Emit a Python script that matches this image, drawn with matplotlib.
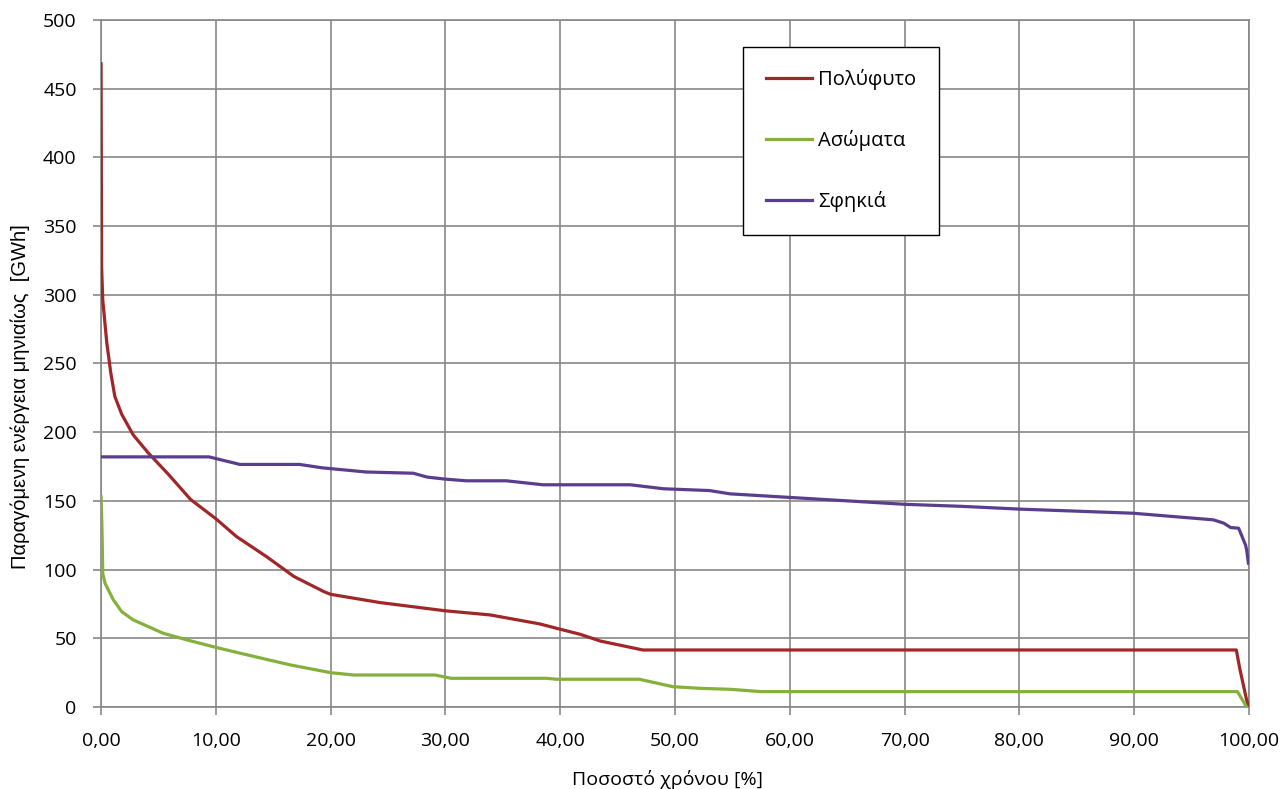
import matplotlib
matplotlib.use('Agg')
import matplotlib.pyplot as plt
from matplotlib.ticker import FuncFormatter

plt.rcParams['font.family'] = ['Open Sans', 'DejaVu Sans']

# Πολύφυτο
poly_x = [0.0, 0.05, 0.15, 0.5, 0.85, 1.2, 1.8, 2.8, 4.1, 5.9, 7.8, 10.0, 11.8, 14.4,
          16.8, 19.4, 20.0, 24.3, 30.0, 33.9, 38.2, 40.0, 41.7, 43.5, 47.2, 98.9, 99.2,
          99.8, 100.0]
poly_y = [468, 320, 296, 265, 243, 226, 213, 198, 185, 169, 151, 137, 124, 109.5,
          95, 84, 82, 76, 70, 67, 60.5, 56.6, 53, 48, 41.5, 41.5, 28,
          5, 0]

# Ασώματα
asom_x = [0.0, 0.05, 0.09, 0.15, 0.35, 1.07, 1.8, 2.8, 5.4, 7.5, 10.0, 12.4, 16.5, 20.0,
          22.0, 29.1, 30.5, 38.8, 39.7, 46.9, 49.8, 52.2, 54.8, 57.5, 99.0, 99.8]
asom_y = [153, 140, 126.7, 97, 90, 78, 69.4, 63.4, 53.7, 48.8, 43.4, 38.6, 30.6, 25,
          23.3, 23.3, 20.9, 20.9, 20.2, 20.2, 14.8, 13.6, 12.9, 11.2, 11.2, 0]

# Σφηκιά
sfik_x = [0.0, 9.4, 12.1, 17.3, 19.3, 23.1, 27.2, 28.4, 30.0, 31.8, 35.3, 38.5, 46.1,
          49.0, 53.0, 54.8, 60.0, 65.0, 70.0, 75.0, 80.0, 85.0, 89.9, 96.9, 97.8, 98.4,
          99.1, 99.7, 99.8, 99.95]
sfik_y = [182, 182, 176.5, 176.5, 174, 171, 170.1, 167.3, 165.8, 164.6, 164.6, 161.7, 161.7,
          158.8, 157.5, 155.1, 152.5, 150, 147.5, 146, 144, 142.5, 141, 136.2, 133.8, 130.6,
          130.1, 118, 114.3, 104.7]

fig = plt.figure(figsize=(12.84, 7.89), dpi=100)
ax = fig.add_axes([0.0787, 0.1039, 0.894, 0.871])

ax.plot(poly_x, poly_y, color='#A02628', lw=2.3, label='Πολύφυτο', zorder=3)
ax.plot(asom_x, asom_y, color='#86B03C', lw=2.3, label='Ασώματα', zorder=3)
ax.plot(sfik_x, sfik_y, color='#5A3E8C', lw=2.3, label='Σφηκιά', zorder=3)

ax.set_xlim(0, 100)
ax.set_ylim(0, 500)
ax.set_xticks(range(0, 101, 10))
ax.set_yticks(range(0, 501, 50))
ax.xaxis.set_major_formatter(FuncFormatter(lambda v, p: f'{v:.2f}'.replace('.', ',')))
ax.grid(True, color='#878787', lw=1.2)
ax.set_axisbelow(True)
for s in ax.spines.values():
    s.set_color('#878787')
    s.set_linewidth(1.2)
ax.tick_params(axis='both', colors='#878787', labelcolor='black', labelsize=14,
               length=6, width=1.2)
ax.tick_params(axis='x', pad=12)
ax.tick_params(axis='y', pad=11.5)

ax.set_xlabel('Ποσοστό χρόνου [%]', fontsize=14)
ax.xaxis.set_label_coords(0.4935, -0.092)
ax.set_ylabel('Παραγόμενη ενέργεια μηνιαίως  [GWh]', fontsize=14.5,
              family=['Liberation Sans', 'DejaVu Sans'], va='center')
ax.yaxis.set_label_coords(-0.0706, 0.451)

leg = ax.legend(loc='upper left', bbox_to_anchor=(0.5592, 0.9607), fontsize=14.5,
                labelspacing=1.98, borderpad=1.12, handlelength=2.3, handletextpad=0.3,
                borderaxespad=0, fancybox=False, framealpha=1, edgecolor='black')
leg.get_frame().set_linewidth(1.0)

fig.savefig('out.png', dpi=100)
